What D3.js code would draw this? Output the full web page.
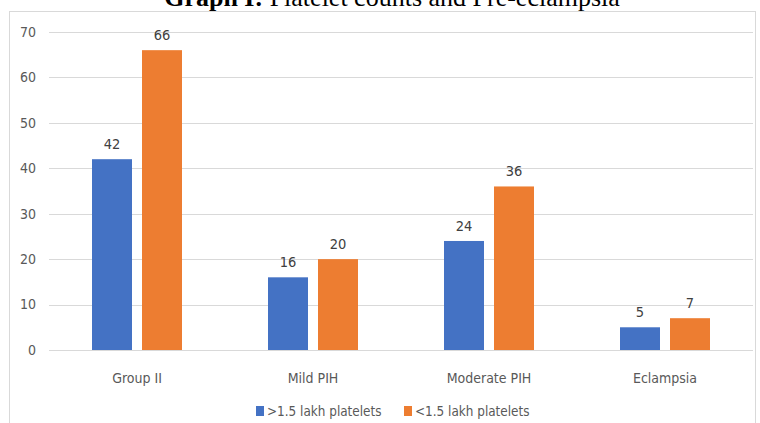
<!DOCTYPE html>
<html>
<head>
<meta charset="utf-8">
<script src="https://cdn.jsdelivr.net/npm/d3@7"></script>
<style>
  body { margin: 0; background: #fff; }
  svg { display: block; }
</style>
</head>
<body>
<script>
// chart data
var categories = ["Group II", "Mild PIH", "Moderate PIH", "Eclampsia"];
var seriesNames = [">1.5 lakh platelets", "<1.5 lakh platelets"];
var above = [42, 16, 24, 5];
var below = [66, 20, 36, 7];
var yTicks = [0, 10, 20, 30, 40, 50, 60, 70];
var colors = ["#4472C4", "#ED7D31"];

var W = 760, H = 423;
var labelFont = "'Liberation Sans Narrow', 'DejaVu Sans Condensed', 'Open Sans', sans-serif";

var svg = d3.select("body").append("svg")
    .attr("width", W)
    .attr("height", H);

// outer frame of the chart area
svg.append("rect")
    .attr("x", 9.5).attr("y", 11.5)
    .attr("width", 746).attr("height", 420)
    .attr("fill", "none")
    .attr("stroke", "#d9d9d9");

// title, partly cut off at the top like in the source
var title = svg.append("text")
    .attr("x", 392).attr("y", 6)
    .attr("text-anchor", "middle")
    .attr("font-family", "'Liberation Serif', 'Times New Roman', serif")
    .attr("font-size", 26)
    .attr("fill", "#000");
title.append("tspan").attr("font-weight", "bold").text("Graph I:");
title.append("tspan").text(" Platelet counts and Pre-eclampsia");

var x = d3.scaleBand().domain(categories).range([49, 753]);
var y = d3.scaleLinear().domain([0, 70]).range([350, 32]);
var xs = d3.scaleBand().domain([0, 1]).range([x.bandwidth() / 2 - 45, x.bandwidth() / 2 + 45]).paddingInner(0.2);

// gridlines
svg.append("g").selectAll("line")
    .data(yTicks)
    .join("line")
    .attr("x1", 49).attr("x2", 753)
    .attr("y1", d => Math.round(y(d)) + 0.5)
    .attr("y2", d => Math.round(y(d)) + 0.5)
    .attr("stroke", "#d9d9d9")
    .attr("stroke-width", 1);

// y tick labels
svg.append("g").selectAll("text")
    .data(yTicks)
    .join("text")
    .attr("x", 36)
    .attr("y", d => y(d))
    .attr("dy", "0.35em")
    .attr("text-anchor", "end")
    .attr("font-family", labelFont)
    .attr("font-size", 14)
    .attr("fill", "#595959")
    .text(d => d);

var rows = categories.map((c, i) => ({ cat: c, vals: [above[i], below[i]] }));

var groups = svg.append("g").selectAll("g")
    .data(rows)
    .join("g")
    .attr("transform", d => "translate(" + x(d.cat) + ",0)");

groups.selectAll("rect")
    .data(d => d.vals)
    .join("rect")
    .attr("x", (d, i) => xs(i))
    .attr("width", xs.bandwidth())
    .attr("y", d => y(d))
    .attr("height", d => y(0) - y(d))
    .attr("fill", (d, i) => colors[i]);

groups.selectAll("text")
    .data(d => d.vals)
    .join("text")
    .attr("x", (d, i) => xs(i) + xs.bandwidth() / 2)
    .attr("y", d => y(d) - 10)
    .attr("text-anchor", "middle")
    .attr("font-family", labelFont)
    .attr("font-size", 14.5)
    .attr("fill", "#404040")
    .text(d => d);

// category labels
svg.append("g").selectAll("text")
    .data(categories)
    .join("text")
    .attr("x", d => x(d) + x.bandwidth() / 2)
    .attr("y", 383)
    .attr("text-anchor", "middle")
    .attr("font-family", labelFont)
    .attr("font-size", 14)
    .attr("fill", "#595959")
    .text(d => d);

// legend
var legendX = [256, 404];
var legend = svg.append("g").selectAll("g")
    .data(seriesNames)
    .join("g")
    .attr("transform", (d, i) => "translate(" + legendX[i] + ",406)");
legend.append("rect")
    .attr("width", 8).attr("height", 10)
    .attr("fill", (d, i) => colors[i]);
legend.append("text")
    .attr("x", 11).attr("y", 10)
    .attr("font-family", labelFont)
    .attr("font-size", 13.4)
    .attr("fill", "#595959")
    .text(d => d);
</script>
</body>
</html>
